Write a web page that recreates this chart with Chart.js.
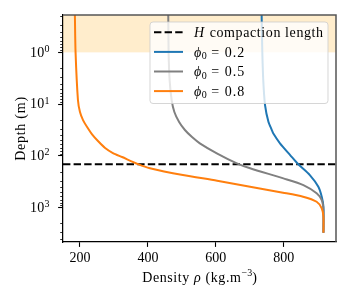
<!DOCTYPE html>
<html><head><meta charset="utf-8">
<script src="https://cdn.jsdelivr.net/npm/chart.js@4.4.1/dist/chart.umd.min.js"></script>
<style>html,body{margin:0;padding:0;background:#fff}</style>
</head><body>
<canvas id="c" width="350" height="300" style="width:350px;height:300px;display:block"></canvas>
<script>
const SERIF = '"Liberation Serif", "DejaVu Serif", serif';

// ---- data ----
const compactionDepth = 145;          // H (m)
const shadeDepth = 1;                 // shaded firn layer bottom (m)

const depth02 = [0.19, 1, 3.7, 10.4, 21.9, 31.6, 36.6, 57.1, 96.1, 145, 234, 394, 613, 957, 3040];
const rho02   = [735, 737, 740, 745, 755, 765, 769, 789, 819, 843, 877, 902, 912, 917, 917];

const depth05 = [0.19, 1, 3.43, 8.34, 14.2, 22.2, 31.6, 43.2, 57.1, 89.1, 139, 173, 271, 365, 527, 710, 1107, 3040];
const rho05   = [460, 461, 464, 470, 478, 492, 509, 530, 553, 603, 662, 701, 799, 858, 897, 912, 917, 917];

const depth08 = [0.19, 1, 8.3, 14.2, 20.3, 27.7, 37.8, 51.5, 70.3, 87.9, 105, 144, 173, 234, 301, 394, 513, 613, 766, 1027, 1494, 3040];
const rho08   = [185, 187, 194, 200, 209, 221, 235, 253, 274, 297, 324, 371, 406, 503, 604, 701, 798, 857, 897, 912, 917, 917];

const xTicks = [200, 400, 600, 800];
const yTicks = [1, 10, 100, 1000];
const yTickExponents = ['0', '1', '2', '3'];
const xLimits = [150, 954];
const yLimits = [0.19, 4590];

const phiLabels = ['0.2', '0.5', '0.8'];
const hLabel = 'compaction length';
const colors = ['#000000', '#1f77b4', '#808080', '#ff7f0e'];

const toPts = (d, r) => d.map((v, i) => ({x: r[i], y: v}));

function segFont(s) { return (s.it ? 'italic ' : '') + s.sz + 'px ' + SERIF; }
function segWidth(ctx, s) {
  ctx.font = segFont(s);
  const ls = s.ls || 0;
  let w = 0;
  for (const ch of s.t) w += ctx.measureText(ch).width + ls;
  return w;
}
function drawRich(ctx, segs, x, y, align) {
  let w = 0;
  for (const s of segs) w += segWidth(ctx, s);
  let cx = align === 'center' ? x - w / 2 : align === 'right' ? x - w : x;
  ctx.textBaseline = 'alphabetic'; ctx.textAlign = 'left'; ctx.fillStyle = '#000';
  for (const s of segs) {
    ctx.font = segFont(s);
    const ls = s.ls || 0;
    for (const ch of s.t) {
      ctx.fillText(ch, cx, y + (s.dy || 0));
      cx += ctx.measureText(ch).width + ls;
    }
  }
}

const LS = 0.6;

const decor = {
  id: 'decor',
  beforeDatasetsDraw(chart) {
    const {ctx, chartArea: a, scales: {y}} = chart;
    const y0 = y.getPixelForValue(yLimits[0]);
    const y1 = y.getPixelForValue(shadeDepth);
    ctx.save();
    ctx.fillStyle = 'rgba(255,165,0,0.2)';
    ctx.fillRect(a.left, Math.min(y0, y1), a.right - a.left, Math.abs(y1 - y0));
    ctx.restore();
  },
  afterDatasetsDraw(chart) {
    const {ctx, chartArea: a, scales: {y}} = chart;
    ctx.save();
    // minor ticks on log axis
    ctx.strokeStyle = '#000'; ctx.lineWidth = 0.8;
    for (let e = -1; e <= 3; e++) {
      for (let m = 2; m <= 9; m++) {
        const v = m * Math.pow(10, e);
        if (v < yLimits[0] || v > yLimits[1]) continue;
        const py = Math.round(y.getPixelForValue(v)) + 0.5;
        ctx.beginPath(); ctx.moveTo(a.left - 2.8, py); ctx.lineTo(a.left, py); ctx.stroke();
      }
    }
    // top & right spines
    ctx.strokeStyle = '#555'; ctx.lineWidth = 1.5;
    ctx.beginPath(); ctx.moveTo(a.left, a.top); ctx.lineTo(a.right, a.top); ctx.lineTo(a.right, a.bottom); ctx.stroke();

    // legend
    const bx = 150, by = 22, bw = 178, bh = 81.5, r = 3;
    ctx.beginPath();
    ctx.moveTo(bx + r, by); ctx.lineTo(bx + bw - r, by); ctx.quadraticCurveTo(bx + bw, by, bx + bw, by + r);
    ctx.lineTo(bx + bw, by + bh - r); ctx.quadraticCurveTo(bx + bw, by + bh, bx + bw - r, by + bh);
    ctx.lineTo(bx + r, by + bh); ctx.quadraticCurveTo(bx, by + bh, bx, by + bh - r);
    ctx.lineTo(bx, by + r); ctx.quadraticCurveTo(bx, by, bx + r, by);
    ctx.closePath();
    ctx.fillStyle = 'rgba(255,255,255,0.8)'; ctx.fill();
    ctx.strokeStyle = 'rgba(204,204,204,0.8)'; ctx.lineWidth = 1; ctx.stroke();
    const rows = [32.3, 51.9, 71.5, 91.1];
    rows.forEach((ry, i) => {
      ctx.strokeStyle = colors[i]; ctx.lineWidth = 2;
      ctx.setLineDash(i === 0 ? [7.4, 3.2] : []);
      ctx.beginPath(); ctx.moveTo(154, ry); ctx.lineTo(183, ry); ctx.stroke();
      ctx.setLineDash([]);
      let segs;
      if (i === 0) segs = [{t: 'H', it: true, sz: 14, ls: 1.5}, {t: ' ' + hLabel, sz: 14, ls: LS}];
      else segs = [{t: 'ϕ', it: true, sz: 14, ls: 0.5}, {t: '0', sz: 10}, {t: ' = ' + phiLabels[i - 1], sz: 14, ls: LS + 0.4}];
      if (i > 0) segs[1].dy = 2.5;
      drawRich(ctx, segs, 194, ry + 4.6, 'left');
    });
    ctx.restore();
  },
  afterDraw(chart) {
    const {ctx, chartArea: a, scales: {y}} = chart;
    ctx.save();
    yTicks.forEach((v, i) => {
      const py = y.getPixelForValue(v);
      drawRich(ctx, [{t: '10', sz: 14, ls: 0.3}, {t: yTickExponents[i], sz: 10, dy: -4.8}], 49.5, py + 4.2, 'right');
    });
    // x title
    drawRich(ctx, [{t: 'Density ', sz: 14, ls: LS}, {t: 'ρ', it: true, sz: 14, ls: LS}, {t: ' (kg.m', sz: 14, ls: LS}, {t: '−3', sz: 10, dy: -5.5}, {t: ')', sz: 14}],
      (a.left + a.right) / 2, 281.5, 'center');
    // y title
    ctx.translate(24.5, (a.top + a.bottom) / 2);
    ctx.rotate(-Math.PI / 2);
    drawRich(ctx, [{t: 'Depth (m)', sz: 14, ls: 0.75}], 0, 0, 'center');
    ctx.restore();
  }
};

const lineDs = (pts, color, order) => ({
  data: pts, borderColor: color, backgroundColor: color, borderWidth: 2,
  showLine: true, pointRadius: 0, tension: 0.25, fill: false, order
});

new Chart(document.getElementById('c'), {
  type: 'scatter',
  data: {
    datasets: [
      Object.assign(lineDs([{x: xLimits[0], y: compactionDepth}, {x: xLimits[1], y: compactionDepth}], colors[0], 3), {borderDash: [7.4, 3.2], tension: 0}),
      lineDs(toPts(depth02, rho02), colors[1], 2),
      lineDs(toPts(depth05, rho05), colors[2], 1),
      lineDs(toPts(depth08, rho08), colors[3], 0)
    ]
  },
  options: {
    responsive: false, animation: false, devicePixelRatio: 1,
    layout: {padding: {left: 0, right: 14, top: 15, bottom: 0}},
    plugins: {legend: {display: false}, tooltip: {enabled: false}},
    scales: {
      x: {
        type: 'linear', min: xLimits[0], max: xLimits[1],
        afterBuildTicks: s => { s.ticks = xTicks.map(v => ({value: v})); },
        afterFit: s => { s.height = 58; },
        ticks: {font: {family: SERIF, size: 14}, color: '#000', padding: 3, maxRotation: 0, autoSkip: false},
        grid: {display: true, drawOnChartArea: false, drawTicks: true, tickLength: 4.9, tickWidth: 1.1, tickColor: '#000'},
        border: {display: true, color: '#000', width: 1.25}
      },
      y: {
        type: 'logarithmic', reverse: true, min: yLimits[0], max: yLimits[1],
        afterBuildTicks: s => { s.ticks = yTicks.map(v => ({value: v})); },
        afterFit: s => { s.width = 63; },
        ticks: {display: false},
        grid: {display: true, drawOnChartArea: false, drawTicks: true, tickLength: 4.9, tickWidth: 1.1, tickColor: '#000'},
        border: {display: true, color: '#000', width: 1.25}
      }
    }
  },
  plugins: [decor]
});
</script>
</body></html>
